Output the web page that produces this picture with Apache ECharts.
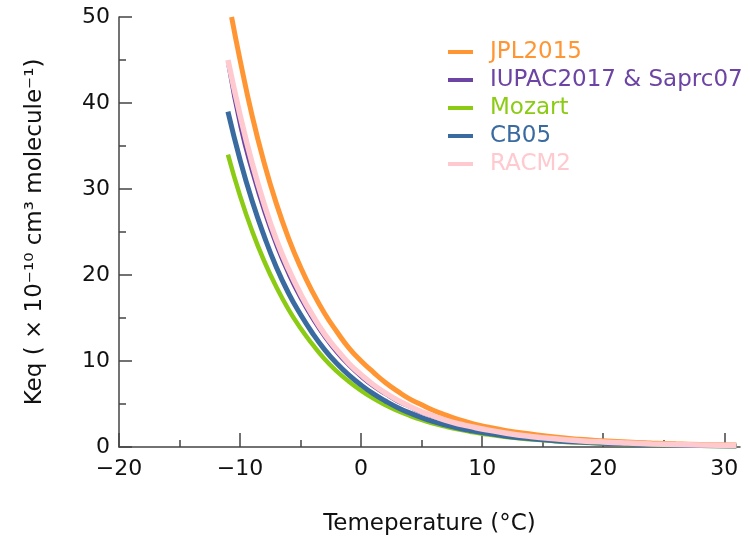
<!DOCTYPE html>
<html>
<head>
<meta charset="utf-8">
<script src="https://cdn.jsdelivr.net/npm/echarts@6/dist/echarts.min.js"></script>
<style>html,body{margin:0;padding:0;background:#fff}#c{width:750px;height:537px}</style>
</head>
<body>
<div id="c"></div>
<script>
// Temperature (°C) sample points
var temps = [-11,-10,-9,-8,-7,-6,-5,-4,-3,-2,-1,0,1,2,3,4,5,6,7,8,9,10,12,14,16,18,20,22,24,26,28,31];
// JPL2015 (starts at the top edge of the plot, about -10.7 °C)
var jplTemps = [-10.7,-10,-9,-8,-7,-6,-5,-4,-3,-2,-1,0,1,2,3,4,5,6,7,8,9,10,12,14,16,18,20,22,24,26,28,31];
var jpl2015 = [50,45.0,38.5,33.0,28.3,24.3,20.9,18.0,15.5,13.4,11.5,10.0,8.7,7.5,6.5,5.6,4.9,4.25,3.7,3.2,2.8,2.45,1.9,1.5,1.15,0.9,0.72,0.57,0.46,0.37,0.3,0.22];
var iupac2017 = [44.4,37.2,31.8,27.2,23.3,20.0,17.2,14.8,12.7,10.9,9.4,8.1,7.0,6.1,5.25,4.6,3.95,3.45,3.0,2.6,2.3,2.0,1.55,1.18,0.92,0.71,0.56,0.44,0.35,0.28,0.22,0.16];
var mozart = [34.0,29.2,25.1,21.6,18.6,16.0,13.8,11.9,10.2,8.8,7.6,6.55,5.65,4.88,4.22,3.65,3.15,2.73,2.37,2.05,1.78,1.55,1.17,0.89,0.68,0.52,0.4,0.31,0.24,0.19,0.15,0.1];
var cb05 = [39.0,33.4,28.6,24.5,20.9,17.9,15.4,13.2,11.3,9.7,8.35,7.2,6.2,5.35,4.6,3.97,3.42,2.95,2.55,2.2,1.92,1.67,1.26,0.96,0.74,0.57,0.44,0.34,0.27,0.21,0.17,0.12];
var racm2 = [45.0,38.6,33.0,28.2,24.1,20.7,17.8,15.3,13.1,11.3,9.7,8.4,7.25,6.3,5.45,4.75,4.1,3.6,3.1,2.7,2.4,2.1,1.6,1.22,0.95,0.74,0.58,0.46,0.36,0.29,0.23,0.17];

var names = ['JPL2015','IUPAC2017 & Saprc07','Mozart','CB05','RACM2'];
var colors = ['#FF9633','#6C44A4','#8CCB14','#3A6BA0','#FFCACF'];
var widths = [5,3,4.5,5,5.5];
var xTicks = [-20,-10,0,10,20,30];
var xMinorTicks = [-15,-5,5,15,25];

function pairs(xs, ys){ return xs.map(function(x,i){ return [x, ys[i]]; }); }
var seriesData = [pairs(jplTemps,jpl2015), pairs(temps,iupac2017), pairs(temps,mozart), pairs(temps,cb05), pairs(temps,racm2)];

var FONT = 'DejaVu Sans';
var chart = echarts.init(document.getElementById('c'), null, {renderer:'canvas'});
function minus(v){ return String(v).replace('-', '\u2212'); }

chart.setOption({
  animation:false,
  backgroundColor:'#fff',
  grid:{left:119, right:10, top:17, bottom:90, containLabel:false, outerBoundsMode:'none'},
  legend:{
    orient:'vertical', left:448, top:40, itemGap:4, padding:0,
    itemWidth:25, itemHeight:4, icon:'rect',
    textStyle:{fontFamily:FONT, fontSize:23, lineHeight:24, padding:[0,0,0,12]},
    data: names.map(function(n,i){ return {name:n, textStyle:{color:colors[i]}}; })
  },
  xAxis:[{
    type:'value', min:-20, max:31.3,
    name:'Temeperature (°C)', nameLocation:'middle', nameGap:66,
    nameTextStyle:{fontFamily:FONT, fontSize:23, color:'#111'},
    axisLine:{onZero:false, lineStyle:{color:'#444', width:1.5}},
    axisTick:{inside:true, length:14, lineStyle:{color:'#444', width:1.5}, customValues:xTicks},
    axisLabel:{fontFamily:FONT, fontSize:22, color:'#111', margin:11, customValues:xTicks, formatter:minus},
    splitLine:{show:false}
  },{
    type:'value', min:-20, max:31.3, position:'bottom',
    axisLine:{show:false, onZero:false},
    axisTick:{inside:true, length:7, lineStyle:{color:'#444', width:1.5}, customValues:xMinorTicks},
    axisLabel:{show:false},
    splitLine:{show:false}
  }],
  yAxis:{
    type:'value', min:0, max:50, interval:10,
    name:'Keq ( \u00d7 10\u207b\u00b9\u2070 cm\u00b3 molecule\u207b\u00b9)',
    nameLocation:'middle', nameGap:72, nameRotate:90,
    nameTextStyle:{fontFamily:FONT, fontSize:23, color:'#111'},
    axisLine:{show:true, onZero:false, lineStyle:{color:'#444', width:1.5}},
    axisTick:{inside:true, length:13, lineStyle:{color:'#444', width:1.5}},
    minorTick:{show:true, splitNumber:2, length:7, lineStyle:{color:'#444', width:1.5}},
    axisLabel:{fontFamily:FONT, fontSize:22, color:'#111', margin:9},
    splitLine:{show:false}
  },
  series: names.map(function(n,i){
    return {name:n, type:'line', data:seriesData[i], smooth:true, showSymbol:false, symbol:'none',
      xAxisIndex:0, color:colors[i], lineStyle:{color:colors[i], width:widths[i], cap:'butt'}};
  })
});
</script>
</body>
</html>
